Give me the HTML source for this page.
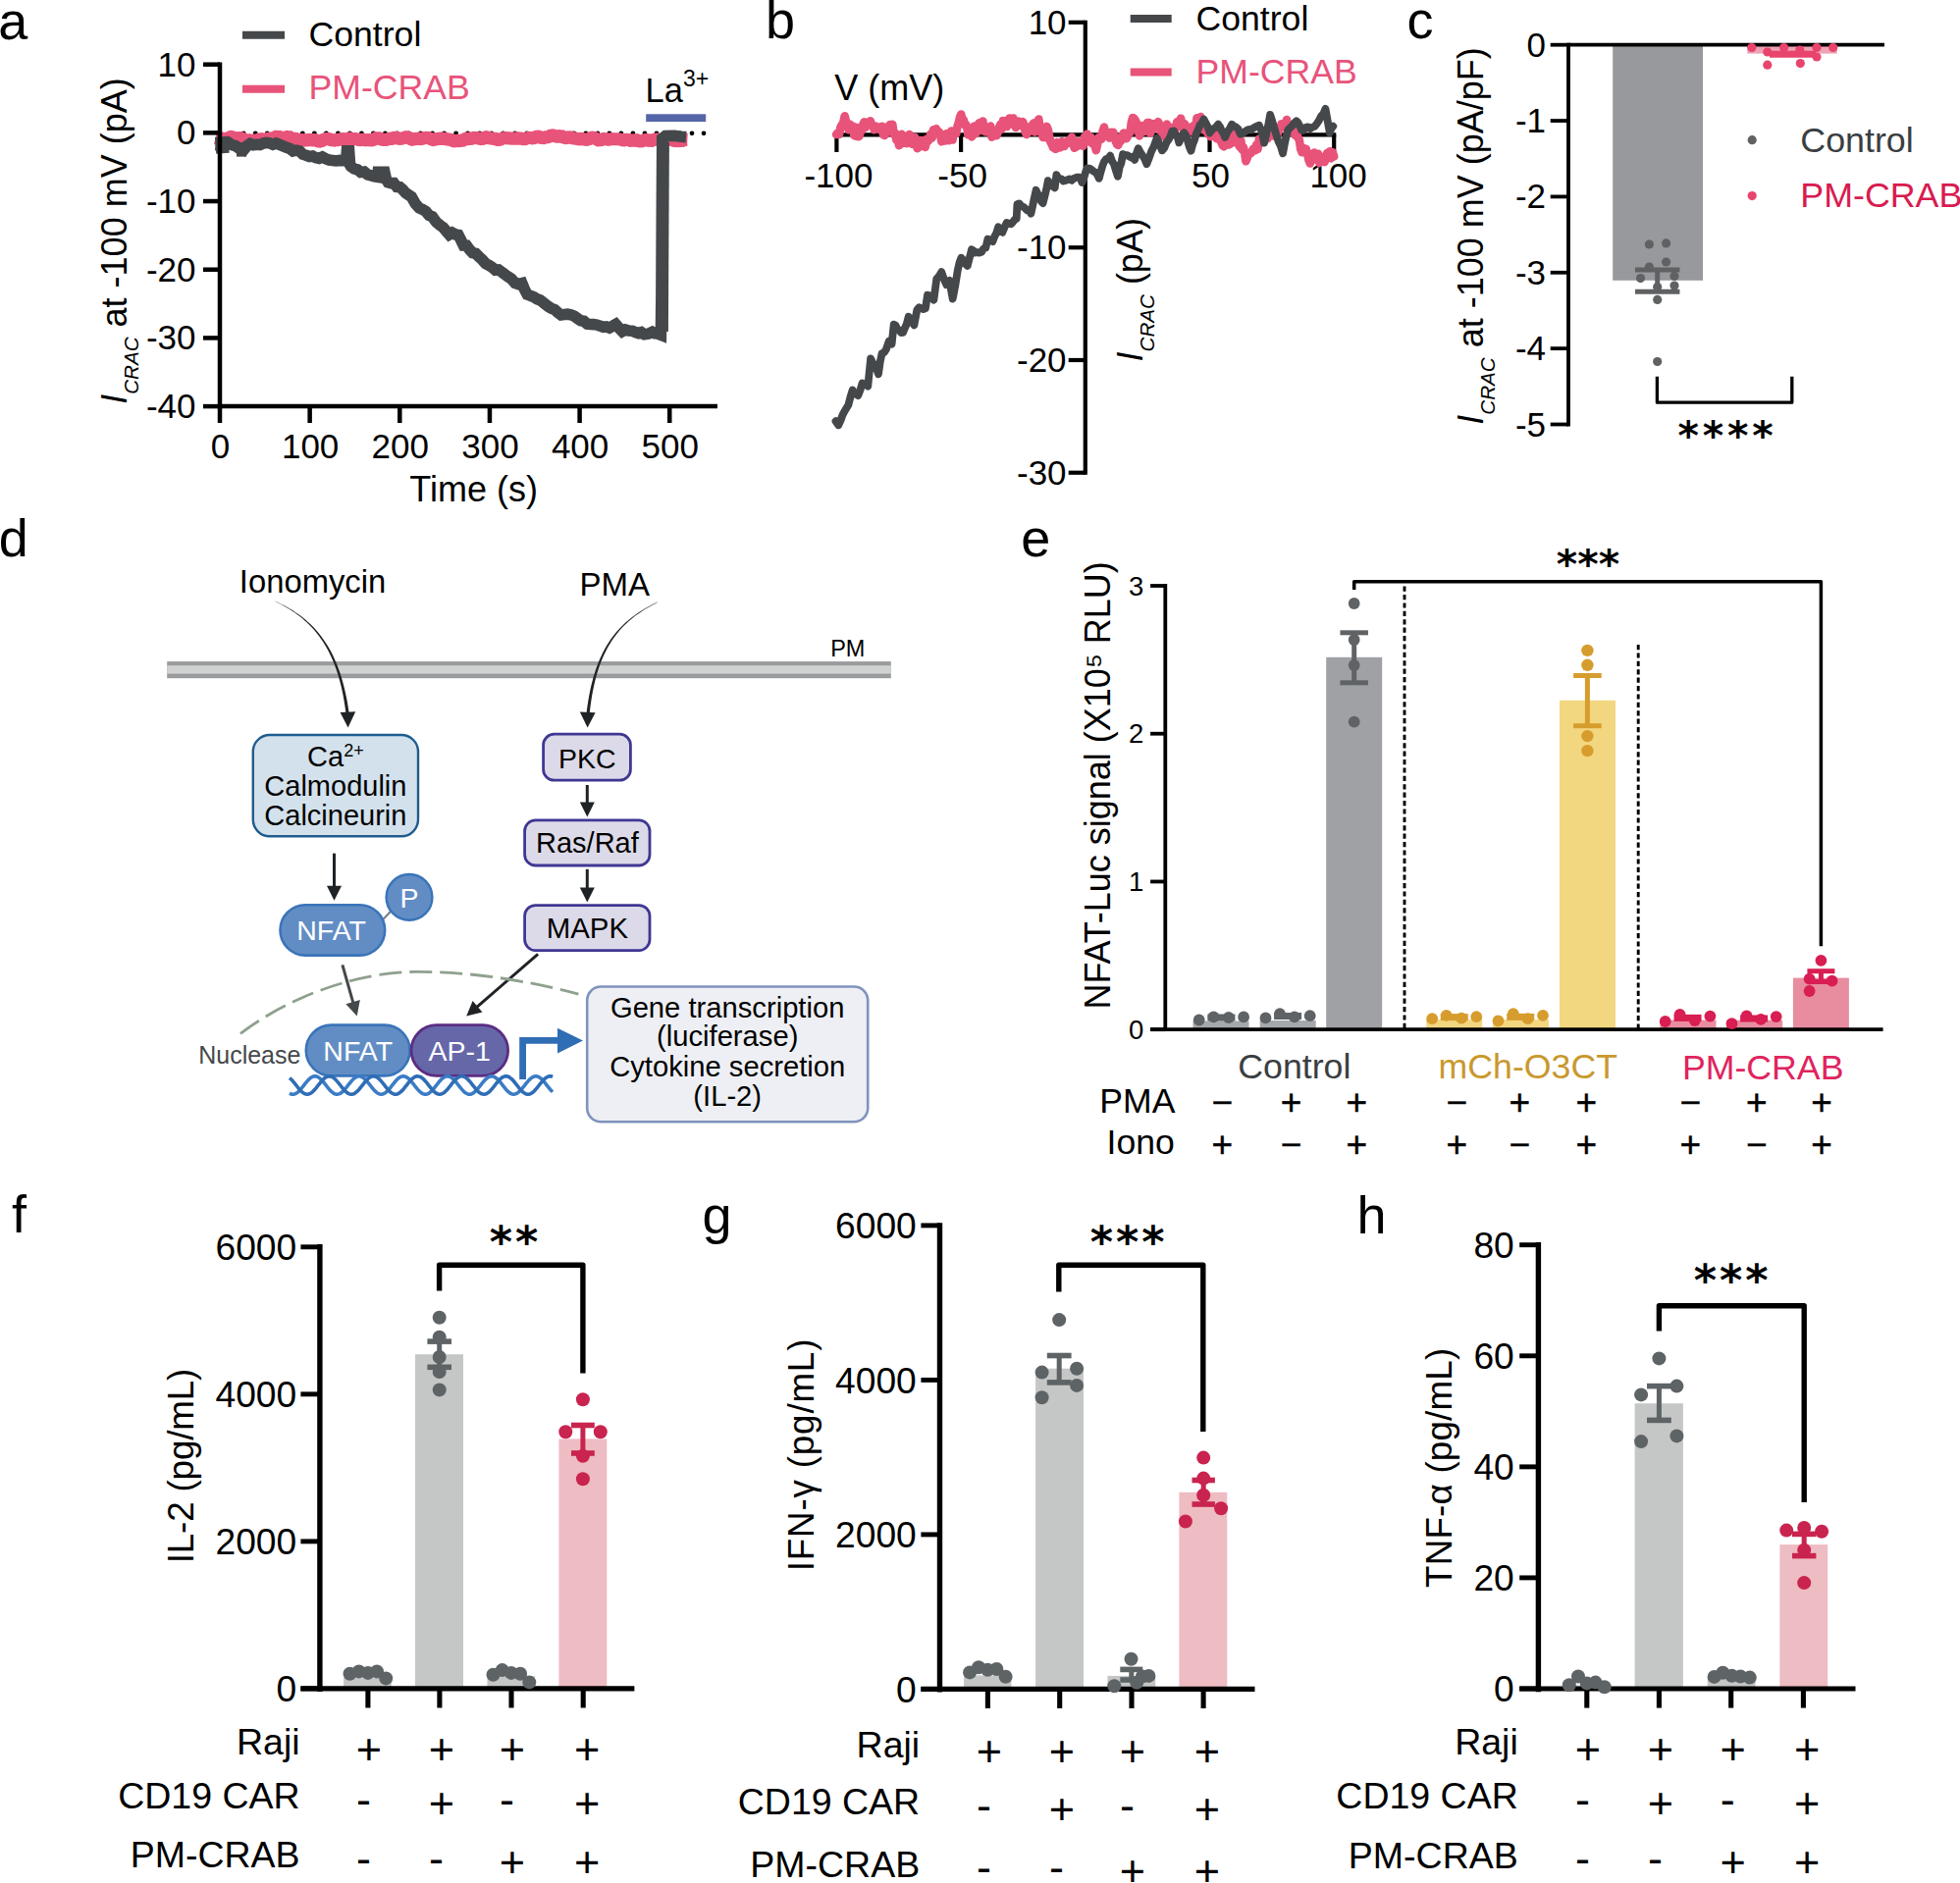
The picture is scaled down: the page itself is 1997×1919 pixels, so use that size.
<!DOCTYPE html>
<html lang="en">
<head>
<meta charset="utf-8">
<title>Figure</title>
<style>
html,body{margin:0;padding:0;background:#fff;}
body{width:1997px;height:1919px;overflow:hidden;}
svg{display:block;}
text{font-family:"Liberation Sans", Arial, Helvetica, sans-serif;}
</style>
</head>
<body>
<svg width="1997" height="1919" viewBox="0 0 1997 1919" font-family='"Liberation Sans", Arial, Helvetica, sans-serif'>
<rect width="1997" height="1919" fill="#fff"/>
<g id="panel-a">
<text x="-1.7" y="39.5" font-size="54">a</text>
<line x1="224.2" y1="135.8" x2="718" y2="135.8" stroke="#000" stroke-width="4.8" stroke-dasharray="0 12.02" stroke-linecap="round"/>
<path d="M219.6 140.66 L222.51 141.4 L225.43 140.94 L228.34 141.53 L231.26 141.67 L234.17 139.84 L237.09 139.25 L240 141.72 L243.14 140.66 L246.29 140.6 L249.43 143.25 L252.57 142.33 L255.71 143.54 L258.86 142.86 L262 143.47 L265 141.39 L268 142.06 L271 142.47 L274 140.99 L277 140.92 L280 140.22 L282.86 138.46 L285.71 140.5 L288.57 140.55 L291.43 139.8 L294.29 138.96 L297.14 141.63 L300 141.08 L303 141.92 L306 142.76 L309 142.56 L312 143.34 L315 141.97 L318 143.16 L321 142.41 L324 144 L327 144.29 L330 142.01 L333 141.49 L336 141.52 L339 143.8 L342 142.45 L345 142.66 L348 141.55 L351 141.86 L354 141.42 L357 141.1 L360 141.66 L363.08 141.72 L366.15 142.7 L369.23 142.12 L372.31 142.74 L375.38 142.56 L378.46 142.9 L381.54 141.88 L384.62 139.99 L387.69 141.78 L390.77 142.41 L393.85 142.29 L396.92 141.12 L400 141.29 L403.08 139.81 L406.15 141.56 L409.23 141.15 L412.31 140.2 L415.38 139.37 L418.46 141.79 L421.54 142.77 L424.62 140.15 L427.69 141.96 L430.77 141.14 L433.85 140.2 L436.92 140.53 L440 142.18 L443 142.93 L446 140.51 L449 141.93 L452 140.47 L455 142.41 L458 141.64 L461 143.33 L464 144.06 L467 142.77 L470 144.17 L473 142.07 L476 140.79 L479 142.09 L482 140.41 L485 140.48 L488 141.05 L491 141.69 L494 140.25 L497 139.48 L500 141.84 L503.08 140.53 L506.15 142.31 L509.23 142.43 L512.31 140.76 L515.38 140.66 L518.46 140.8 L521.54 141.2 L524.62 141.09 L527.69 140.92 L530.77 141.05 L533.85 142.07 L536.92 140.86 L540 140.34 L543.12 140.99 L546.25 139.42 L549.38 139.16 L552.5 141.12 L555.62 139.9 L558.75 139.6 L561.88 137.67 L565 138.42 L568.12 139.45 L571.25 138.12 L574.38 140.01 L577.5 140.69 L580.62 139.24 L583.75 141.02 L586.88 141.11 L590 142.06 L593 141.19 L596 142.19 L599 142.53 L602 140.35 L605 140.07 L608 142.03 L611 143.38 L614 141.41 L617 141.71 L620 142.25 L623 141.62 L626 141.76 L629 141.74 L632 142.04 L635 142.94 L638 142.3 L641 142.54 L644 143.97 L647 141.99 L650 143.45 L653.12 144.18 L656.25 142.92 L659.38 142.33 L662.5 144.03 L665.62 142.51 L668.75 141.99 L671.88 142.63 L675 143.55 L678.17 141.84 L681.35 142.2 L684.52 142.31 L687.7 143.93 L690.88 142.99 L694.05 144.14 L697.23 142.17 L700.4 142.31" fill="none" stroke="#e8537a" stroke-width="13.2" stroke-linejoin="bevel" stroke-linecap="butt"/>
<path d="M219.6 147.61 L222.75 147.98 L225.9 146.58 L229.05 145.56 L232.2 144.9 L236.1 147.72 L240 148.66 L244.1 151.49 L248.2 152.99 L251.5 148.84 L254.8 146.53 L258.12 147.79 L261.45 147.31 L264.78 147.55 L268.1 146.17 L271.4 145.47 L274.7 145.83 L278 147.23 L281.3 145.95 L284.83 147.36 L288.37 148.9 L291.9 150.26 L295.22 151.41 L298.55 153.96 L301.88 153.21 L305.2 153.78 L308.52 157.23 L311.85 158.28 L315.18 159.55 L318.5 159.07 L321.8 160.81 L325.1 161.38 L328.4 159.98 L331.7 161.7 L335.23 162.97 L338.77 163.44 L342.3 163.91 L345.73 163.44 L349.17 163.71 L352.6 163.62 L353.4 153.8 L355.6 153.8 L356.6 168 L357.5 169.57 L360.83 172.03 L364.17 172.92 L367.5 175.42 L371.07 175.08 L374.63 177.98 L378.2 178.9 L381.4 179.87 L384.6 180.35 L385.2 175.2 L391.8 175.2 L393.4 182.5 L395.4 185.72 L398.38 186.63 L401.35 186.6 L404.32 190.43 L407.3 190.66 L410.3 193.22 L413.3 196.68 L416.3 198.69 L419.3 200.65 L423.25 207.52 L427.2 211.98 L430.52 213.39 L433.85 215.35 L437.18 219.5 L440.5 220.83 L444.5 226.32 L448.5 229.73 L451.57 231.8 L454.63 235.44 L457.7 239.07 L460.8 237.19 L463.9 238.9 L467 239.47 L469.65 244.62 L472.3 250.1 L475.37 250.14 L478.43 254.32 L481.5 257.73 L484.82 258.34 L488.15 261.77 L491.48 264.81 L494.8 268.6 L498.12 270.34 L501.45 272.44 L504.78 275.36 L508.1 275.06 L511.4 277.32 L514.7 279.86 L518 282.2 L521.3 284.35 L524.83 288.44 L528.37 289.68 L531.9 288.66 L534.55 295.14 L537.2 300.13 L540.53 301.33 L543.85 302.68 L547.17 304.85 L550.5 306 L554.5 309.05 L558.5 312.22 L561.8 314.35 L565.1 315.54 L568.4 318.57 L571.7 320.97 L575.03 320.58 L578.35 320.13 L581.67 320.91 L585 322.1 L588.33 324.54 L591.65 326.84 L594.97 327.35 L598.3 330.19 L601.6 330.49 L604.9 330.59 L608.2 331.07 L611.5 332.15 L614.6 333.28 L617.7 332.95 L620.8 334.18 L624.1 332.34 L627.4 330.41 L630.75 334.23 L634.1 337.8 L637.4 336.02 L640.7 337 L644 337.16 L647.3 338.64 L650.4 339.62 L653.5 338.59 L656.6 340.69 L660.6 340.21 L664.6 338.27 L667.25 339.88 L669.9 340.03 L673.4 341.34 L673.9 300 L674.4 200 L674.8 141 L678 138.4 L687.1 138.2 L694 139.2 L699.1 139.6" fill="none" stroke="#45484b" stroke-width="11.6" stroke-linejoin="miter" stroke-miterlimit="2.5" stroke-linecap="butt"/>
<path d="M219.6 148.2 L233 147.2" fill="none" stroke="#45484b" stroke-width="17"/>
<path d="M241 152.4 L251 152.4" fill="none" stroke="#45484b" stroke-width="14.5"/>
<path d="M675.4 338 L676.4 145" fill="none" stroke="#45484b" stroke-width="11"/>
<line x1="224" y1="63.45" x2="224" y2="416.35" stroke="#000" stroke-width="4.5"/>
<line x1="224" y1="414.1" x2="731" y2="414.1" stroke="#000" stroke-width="4.5"/>
<line x1="207" y1="65.7" x2="224" y2="65.7" stroke="#000" stroke-width="4.5"/>
<text x="199.5" y="77.7" font-size="35" text-anchor="end">10</text>
<line x1="207" y1="135.38" x2="224" y2="135.38" stroke="#000" stroke-width="4.5"/>
<text x="199.5" y="147.38" font-size="35" text-anchor="end">0</text>
<line x1="207" y1="205.06" x2="224" y2="205.06" stroke="#000" stroke-width="4.5"/>
<text x="199.5" y="217.06" font-size="35" text-anchor="end">-10</text>
<line x1="207" y1="274.74" x2="224" y2="274.74" stroke="#000" stroke-width="4.5"/>
<text x="199.5" y="286.74" font-size="35" text-anchor="end">-20</text>
<line x1="207" y1="344.42" x2="224" y2="344.42" stroke="#000" stroke-width="4.5"/>
<text x="199.5" y="356.42" font-size="35" text-anchor="end">-30</text>
<line x1="207" y1="414.1" x2="224" y2="414.1" stroke="#000" stroke-width="4.5"/>
<text x="199.5" y="426.1" font-size="35" text-anchor="end">-40</text>
<line x1="224" y1="414.1" x2="224" y2="431" stroke="#000" stroke-width="4.5"/>
<text x="224.5" y="466.8" font-size="35" text-anchor="middle">0</text>
<line x1="315.65" y1="414.1" x2="315.65" y2="431" stroke="#000" stroke-width="4.5"/>
<text x="316.15" y="466.8" font-size="35" text-anchor="middle">100</text>
<line x1="407.3" y1="414.1" x2="407.3" y2="431" stroke="#000" stroke-width="4.5"/>
<text x="407.8" y="466.8" font-size="35" text-anchor="middle">200</text>
<line x1="498.95" y1="414.1" x2="498.95" y2="431" stroke="#000" stroke-width="4.5"/>
<text x="499.45" y="466.8" font-size="35" text-anchor="middle">300</text>
<line x1="590.6" y1="414.1" x2="590.6" y2="431" stroke="#000" stroke-width="4.5"/>
<text x="591.1" y="466.8" font-size="35" text-anchor="middle">400</text>
<line x1="682.25" y1="414.1" x2="682.25" y2="431" stroke="#000" stroke-width="4.5"/>
<text x="682.75" y="466.8" font-size="35" text-anchor="middle">500</text>
<text x="482.6" y="511" font-size="36" text-anchor="middle">Time (s)</text>
<text transform="translate(129.2,411.8) rotate(-90)" font-size="36"><tspan font-style="italic">I</tspan><tspan font-style="italic" font-size="20.6" dy="12">CRAC</tspan><tspan dy="-12"> at -100 mV (pA)</tspan></text>
<line x1="247" y1="35.7" x2="290" y2="35.7" stroke="#45484b" stroke-width="8"/>
<text x="314.6" y="46.5" font-size="35.6">Control</text>
<line x1="247" y1="90.8" x2="290" y2="90.8" stroke="#e8537a" stroke-width="8"/>
<text x="314.6" y="101" font-size="35.6" fill="#e8537a">PM-CRAB</text>
<text x="657.6" y="104" font-size="34.5">La<tspan font-size="23" dy="-16.2">3+</tspan></text>
<rect x="658.2" y="116.3" width="61" height="7.8" fill="#5566a8"/>
</g>
<g id="panel-b">
<text x="780" y="38.6" font-size="54">b</text>
<line x1="1105.8" y1="20.7" x2="1105.8" y2="483.8" stroke="#000" stroke-width="4.2"/>
<line x1="850.3" y1="137.4" x2="1361.3" y2="137.4" stroke="#000" stroke-width="4.2"/>
<line x1="1088.7" y1="22.8" x2="1105.8" y2="22.8" stroke="#000" stroke-width="4.2"/>
<text x="1086.6" y="34.8" font-size="35" text-anchor="end">10</text>
<line x1="1088.7" y1="252.26" x2="1105.8" y2="252.26" stroke="#000" stroke-width="4.2"/>
<text x="1086.6" y="264.26" font-size="35" text-anchor="end">-10</text>
<line x1="1088.7" y1="366.99" x2="1105.8" y2="366.99" stroke="#000" stroke-width="4.2"/>
<text x="1086.6" y="378.99" font-size="35" text-anchor="end">-20</text>
<line x1="1088.7" y1="481.72" x2="1105.8" y2="481.72" stroke="#000" stroke-width="4.2"/>
<text x="1086.6" y="493.72" font-size="35" text-anchor="end">-30</text>
<line x1="852.4" y1="137.4" x2="852.4" y2="155" stroke="#000" stroke-width="4.2"/>
<text x="854.5" y="190.6" font-size="35" text-anchor="middle">-100</text>
<line x1="979.1" y1="137.4" x2="979.1" y2="155" stroke="#000" stroke-width="4.2"/>
<text x="980.6" y="190.6" font-size="35" text-anchor="middle">-50</text>
<line x1="1232.5" y1="137.4" x2="1232.5" y2="155" stroke="#000" stroke-width="4.2"/>
<text x="1233.5" y="190.6" font-size="35" text-anchor="middle">50</text>
<line x1="1359.2" y1="137.4" x2="1359.2" y2="155" stroke="#000" stroke-width="4.2"/>
<text x="1363.6" y="190.6" font-size="35" text-anchor="middle">100</text>
<text x="850.2" y="101.8" font-size="36">V (mV)</text>
<text transform="translate(1164.3,368.5) rotate(-90)" font-size="36"><tspan font-style="italic">I</tspan><tspan font-style="italic" font-size="20.6" dy="12">CRAC</tspan><tspan dy="-12"> (pA)</tspan></text>
<path d="M852.1 137.04 L853.55 135.44 L855 137.03 L856.42 129.55 L857.85 127 L859.28 125.38 L860.7 118.21 L862.03 123.88 L863.35 127.9 L864.67 132.28 L866 126.61 L867.42 129.51 L868.85 128.44 L870.28 137.87 L871.7 138.57 L872.96 129.9 L874.22 139.13 L875.48 138.95 L876.74 134.4 L878 132.59 L879.26 126.89 L880.52 124.42 L881.78 129.95 L883.04 124.78 L884.3 125.56 L885.58 125.98 L886.87 123.29 L888.15 127.84 L889.43 127.77 L890.72 132.21 L892 128.62 L893.33 130.37 L894.67 129.5 L896 131.92 L897.33 130.36 L898.67 128.71 L900 137.56 L901.33 138.02 L902.67 135.95 L904 133.89 L905.33 128.79 L906.67 126.98 L908 127.2 L909.33 126.86 L910.67 136.92 L912 135.59 L913.33 142.63 L914.67 139.9 L916 148.27 L917.33 147.17 L918.67 136.78 L920 137.82 L921.33 145.74 L922.67 141.01 L924 146.13 L925.33 140.61 L926.67 136.94 L928 143.76 L929.33 146.86 L930.67 141.89 L932 139.93 L933.33 143.06 L934.66 151.24 L935.99 150.12 L937.31 143 L938.64 144.26 L939.97 143.17 L941.3 143.05 L942.72 149.94 L944.15 141.87 L945.58 144.02 L947 141.42 L948.35 136.42 L949.7 140.55 L951.05 132.22 L952.4 135.67 L953.8 131.19 L955.2 135.34 L956.6 134.35 L958 135.96 L959.24 144.23 L960.49 143.13 L961.73 137.2 L962.97 143.43 L964.21 136.19 L965.46 137.64 L966.7 143.19 L967.96 140.62 L969.22 133.45 L970.48 142.56 L971.74 133.81 L973 132.89 L974.26 136.04 L975.52 128.61 L976.78 124.93 L978.04 119.39 L979.3 116.48 L980.47 123.79 L981.65 121.94 L982.83 127.34 L984 126.59 L985.2 129.31 L986.4 137.3 L987.6 134.34 L988.8 136.91 L990.04 139.38 L991.28 130.73 L992.52 128.63 L993.76 136.34 L995 135.15 L996.28 127.58 L997.56 125.32 L998.84 130.71 L1000.12 132.79 L1001.4 123.49 L1002.72 132.97 L1004.04 134.47 L1005.36 132.71 L1006.68 131.75 L1008 129.29 L1009.22 128.53 L1010.44 139.63 L1011.66 132.62 L1012.88 137.74 L1014.1 133.37 L1015.42 138.19 L1016.73 134.81 L1018.05 129.73 L1019.37 126.64 L1020.68 131.51 L1022 123.17 L1023.32 123.31 L1024.63 126.26 L1025.95 129.06 L1027.27 125.62 L1028.58 120.44 L1029.9 126.44 L1031.18 121.1 L1032.45 120.44 L1033.72 125.4 L1035 130.04 L1036.47 124.26 L1037.93 123.69 L1039.4 124.53 L1040.72 128.05 L1042.04 124.05 L1043.36 127.16 L1044.68 134.47 L1046 137.06 L1047.2 133.82 L1048.4 134.24 L1049.6 133.38 L1050.8 128.44 L1052 127.05 L1053.26 125.39 L1054.52 134.52 L1055.78 131.83 L1057.04 133.47 L1058.3 121.47 L1059.73 131.16 L1061.17 133.53 L1062.6 139.89 L1063.9 134.05 L1065.2 140.26 L1066.5 128.9 L1067.8 132.1 L1069.1 138.71 L1070.4 144.81 L1071.7 147.04 L1073 150.41 L1074.3 150.96 L1075.6 152.05 L1076.9 145.18 L1078.2 148 L1079.5 150.41 L1080.8 149.91 L1082.1 144.15 L1083.4 147.55 L1084.63 148.83 L1085.86 145.6 L1087.09 145.92 L1088.31 143.15 L1089.54 145.26 L1090.77 145.82 L1092 139.72 L1093.3 145.83 L1094.6 150.74 L1095.9 150.06 L1097.2 148.37 L1098.5 144.39 L1099.8 148.2 L1101.1 146.94 L1102.4 145.33 L1103.72 148.76 L1105.04 139.34 L1106.36 145.26 L1107.68 136.49 L1109 141.36 L1110.3 141.79 L1111.6 140.01 L1112.9 146.43 L1114.2 145.84 L1115.5 148.27 L1116.8 153.21 L1118.1 147.05 L1119.48 140.33 L1120.86 140.24 L1122.24 141.83 L1123.62 133.62 L1125 129.6 L1126.33 138.66 L1127.67 137.17 L1129 134.95 L1130.33 140.47 L1131.67 134.9 L1133 138.78 L1134.27 134.85 L1135.53 138.26 L1136.8 144.07 L1138.07 146.99 L1139.33 147.97 L1140.6 143.34 L1142 143.69 L1143.4 139.34 L1144.8 135.54 L1146.2 138.11 L1147.6 141.1 L1148.9 139.07 L1150.2 134.92 L1151.5 134.96 L1152.8 124.74 L1154.1 120.12 L1155.4 120.61 L1156.8 122.72 L1158.2 125.68 L1159.6 131.78 L1161 138.33 L1162.3 133.66 L1163.6 128.05 L1164.9 130.55 L1166.32 133.86 L1167.74 128.93 L1169.16 124.95 L1170.58 124.98 L1172 135.76 L1173.36 125.97 L1174.72 131.86 L1176.08 129.9 L1177.44 125.71 L1178.8 130 L1180.1 124.09 L1181.4 127.21 L1182.7 133.59 L1184 131.54 L1185.24 139.26 L1186.49 132 L1187.73 129.04 L1188.97 126.54 L1190.21 131.99 L1191.46 129.3 L1192.7 130.07 L1194 130.34 L1195.3 131.94 L1196.6 133.67 L1197.9 130.43 L1199.2 124.23 L1200.5 126.63 L1201.8 123.2 L1203.1 120.69 L1204.33 126.86 L1205.56 131.21 L1206.79 126.29 L1208.01 127.79 L1209.24 129.69 L1210.47 134.9 L1211.7 134.25 L1213 133.66 L1214.3 133.89 L1215.6 128.29 L1216.9 131.02 L1218.2 131.26 L1219.5 120.33 L1220.8 127.75 L1222.1 124.66 L1223.34 119.06 L1224.59 123.63 L1225.83 127.43 L1227.07 132.48 L1228.31 128.08 L1229.56 131.22 L1230.8 136.51 L1232.04 136.67 L1233.29 139.08 L1234.53 134.36 L1235.77 136.76 L1237.01 132.44 L1238.26 138.73 L1239.5 141.15 L1240.74 140.25 L1241.99 141.95 L1243.23 137.12 L1244.47 145.57 L1245.71 148.26 L1246.96 149.39 L1248.2 145.25 L1249.42 147.27 L1250.65 141.57 L1251.88 147.51 L1253.1 147.07 L1254.33 140.7 L1255.55 136.56 L1256.78 139.94 L1258 141.17 L1259.25 145.34 L1260.5 143.77 L1261.75 139.55 L1263 149.57 L1264.25 143.16 L1265.5 152.43 L1266.8 149.78 L1268.1 154.92 L1269.4 164.24 L1270.7 161.11 L1272 156.6 L1273.3 156.94 L1274.6 155.89 L1275.9 153.64 L1277.3 151.34 L1278.7 153.48 L1280.1 147.76 L1281.5 151.9 L1282.9 141.59 L1284.13 140.97 L1285.36 143.36 L1286.59 139.71 L1287.81 143.36 L1289.04 141.55 L1290.27 138.9 L1291.5 141.27 L1292.74 137.57 L1293.99 133.62 L1295.23 133.37 L1296.47 138.11 L1297.71 138.56 L1298.96 129.84 L1300.2 135.81 L1301.54 137.28 L1302.89 131.71 L1304.23 131.21 L1305.58 126.28 L1306.92 129.19 L1308.27 128.58 L1309.61 129.19 L1310.96 121.98 L1312.3 131.75 L1313.54 128.97 L1314.79 128.68 L1316.03 134.67 L1317.27 133.82 L1318.51 134.23 L1319.76 137.95 L1321 132.34 L1322.4 140.31 L1323.8 142.47 L1325.2 151.86 L1326.6 155.24 L1328 150.75 L1329.38 154.09 L1330.76 151.92 L1332.14 156.84 L1333.52 163.35 L1334.9 166.54 L1336.28 161.03 L1337.66 157.98 L1339.04 155.58 L1340.42 159.7 L1341.8 163.08 L1343.1 156.8 L1344.4 166.13 L1345.7 160.58 L1347 164.39 L1348.3 162.27 L1349.6 165.08 L1350.9 158.73 L1352.2 156.12 L1353.6 159.57 L1355 154.22 L1356.4 161.33 L1357.8 155.25 L1359.2 159.5" fill="none" stroke="#e8537a" stroke-width="8.6" stroke-linejoin="round" stroke-linecap="round"/>
<path d="M851.5 429.19 L854.3 433.24 L856.45 428.59 L858.6 422.69 L860.5 419.14 L862.4 415.91 L864.3 412.96 L866.45 404.65 L868.6 397.53 L870.5 400.35 L872.4 401.95 L874.3 403.04 L876.45 397.6 L878.6 390.48 L880.5 392.17 L882.4 391.19 L884.3 393.61 L887.1 365.38 L889.08 369.64 L891.05 371.69 L893.02 375.43 L895 381.31 L896.8 368.52 L898.6 360.14 L900.75 359.26 L902.9 356.05 L905.7 347.65 L908.6 350.64 L910.7 330.68 L912.56 331.74 L914.42 335.78 L916.28 336.4 L918.14 339.2 L920 338.88 L921.9 334.34 L923.8 330.09 L925.7 322.79 L927.6 325.08 L929.5 328.58 L931.4 331.38 L934.3 315.96 L936.45 313.22 L938.6 314.21 L940.75 315.13 L942.9 314.39 L945 300.61 L947.13 301.42 L949.27 303.25 L951.4 305.68 L954.3 284.06 L956.8 281.4 L959.3 277.15 L961.8 284.48 L964.3 290.28 L965.9 288.07 L967.5 285.93 L969.1 295.95 L970.7 304.59 L973.2 291.55 L975.7 275.94 L977.5 267.72 L979.3 262.71 L981.43 264.74 L983.57 268.93 L985.7 270.92 L987.85 262.7 L990 254.33 L991.9 255.51 L993.8 257.47 L995.7 257.05 L997.85 257.67 L1000 256.92 L1002.15 253.41 L1004.3 252.66 L1006.4 243.65 L1008.9 244.77 L1011.4 246.09 L1013.3 241.18 L1015.2 237.56 L1017.1 231.32 L1019.25 235.42 L1021.4 236.79 L1023.55 231.47 L1025.7 226.95 L1027.85 227.69 L1030 228.34 L1031.9 226.5 L1033.8 223.84 L1035.7 222.97 L1036.4 208.24 L1038.57 207.4 L1040.73 210.3 L1042.9 210.92 L1044.78 212.62 L1046.65 214.37 L1048.53 214.68 L1050.4 217.77 L1052.13 209.96 L1053.87 201.47 L1055.6 193.74 L1057.35 197.65 L1059.1 200.39 L1060.85 205.2 L1062.6 207.08 L1064.33 200.22 L1066.07 193.17 L1067.8 184.2 L1070.1 186.91 L1072.4 189.65 L1074.7 191.44 L1076.4 178.08 L1078.15 181.56 L1079.9 182.17 L1081.65 182.34 L1083.4 184.57 L1085.55 183.92 L1087.7 183.33 L1089.85 182.41 L1092 183.89 L1093.75 182.07 L1095.5 181.31 L1097.25 180.67 L1099 180.55 L1100.7 180.97 L1102.4 186.04 L1104.17 181.96 L1105.93 175.82 L1107.7 171.51 L1110 171.57 L1112.3 173.1 L1114.6 174.88 L1116.33 175.78 L1118.07 177.92 L1119.8 181.82 L1121.53 175.12 L1123.27 169.12 L1125 164.82 L1127.03 161.94 L1129.07 161.47 L1131.1 158.71 L1133.05 164.36 L1135 167.23 L1136.95 173.89 L1138.9 179.76 L1140.63 170.58 L1142.37 166.29 L1144.1 157.12 L1146.4 158.48 L1148.7 158.14 L1151 159.68 L1152.73 160.71 L1154.47 159.54 L1156.2 162.8 L1157.95 156.17 L1159.7 151.17 L1161.88 155.32 L1164.05 158.5 L1166.23 162.07 L1168.4 167.13 L1170.7 161.17 L1173 154.49 L1175.3 150.03 L1177.05 145.3 L1178.8 140.77 L1180.53 145.48 L1182.27 148.95 L1184 153.33 L1186.3 150.66 L1188.6 145.05 L1190.9 141.96 L1192.63 138.73 L1194.37 133.54 L1196.1 133.45 L1197.83 137.65 L1199.57 138.91 L1201.3 145.39 L1203.03 140.62 L1204.77 137.18 L1206.5 135.32 L1208.25 137.9 L1210 143.36 L1211.75 149.54 L1213.5 153.76 L1215.23 147.08 L1216.97 142.85 L1218.7 136.68 L1220.65 132.48 L1222.6 127.35 L1224.55 125.36 L1226.5 121.48 L1228.53 125.26 L1230.57 129.32 L1232.6 135.44 L1234.75 132.1 L1236.9 130.84 L1239.05 129.49 L1241.2 126.71 L1242.95 129.07 L1244.7 133.09 L1246.45 135.71 L1248.2 139.88 L1250.5 134.55 L1252.8 131.36 L1255.1 126.73 L1257.27 128.62 L1259.45 129.54 L1261.62 131.57 L1263.8 136.64 L1265.88 135.84 L1267.96 134.61 L1270.04 132.99 L1272.12 131.92 L1274.2 132.52 L1276.38 130.96 L1278.55 129.72 L1280.73 128.56 L1282.9 127.67 L1284.63 131.68 L1286.37 137.49 L1288.1 145.66 L1290.1 137.03 L1292.1 128.24 L1294.1 116.85 L1296.13 122.97 L1298.17 129.97 L1300.2 136.87 L1302.5 143.93 L1304.8 148.68 L1307.1 156.31 L1308.83 146.82 L1310.57 138.62 L1312.3 132.42 L1314.47 130.06 L1316.65 128.15 L1318.83 125.18 L1321 123.29 L1322.73 125.32 L1324.47 128.53 L1326.2 132.73 L1328.38 132.75 L1330.55 129.89 L1332.73 129.37 L1334.9 131.17 L1337.2 129.62 L1339.5 128.89 L1341.8 125.96 L1343.97 122.57 L1346.15 118.18 L1348.33 116.02 L1350.5 110.87 L1352.65 122.96 L1354.8 135.43 L1356.55 130.8 L1358.3 128.72" fill="none" stroke="#45484b" stroke-width="7.8" stroke-linejoin="round" stroke-linecap="round"/>
<line x1="1151.7" y1="19" x2="1193.7" y2="19" stroke="#45484b" stroke-width="8"/>
<text x="1218.6" y="31" font-size="35.6">Control</text>
<line x1="1151.7" y1="73.4" x2="1193.7" y2="73.4" stroke="#e8537a" stroke-width="8"/>
<text x="1218.6" y="85.4" font-size="35.6" fill="#e8537a">PM-CRAB</text>
</g>
<g id="panel-c">
<text x="1433.5" y="39.3" font-size="54">c</text>
<rect x="1643.2" y="45.7" width="91.8" height="240.1" fill="#97999d"/>
<rect x="1780.3" y="45.7" width="91.4" height="8.9" fill="#eda3b4"/>
<line x1="1598" y1="43.8" x2="1598" y2="434.4" stroke="#000" stroke-width="3.8"/>
<line x1="1598" y1="45.7" x2="1920" y2="45.7" stroke="#000" stroke-width="3.8"/>
<line x1="1579.7" y1="45.7" x2="1598" y2="45.7" stroke="#000" stroke-width="3.8"/>
<text x="1575" y="57.7" font-size="35" text-anchor="end">0</text>
<line x1="1579.7" y1="123.06" x2="1598" y2="123.06" stroke="#000" stroke-width="3.8"/>
<text x="1575" y="135.06" font-size="35" text-anchor="end">-1</text>
<line x1="1579.7" y1="200.42" x2="1598" y2="200.42" stroke="#000" stroke-width="3.8"/>
<text x="1575" y="212.42" font-size="35" text-anchor="end">-2</text>
<line x1="1579.7" y1="277.78" x2="1598" y2="277.78" stroke="#000" stroke-width="3.8"/>
<text x="1575" y="289.78" font-size="35" text-anchor="end">-3</text>
<line x1="1579.7" y1="355.14" x2="1598" y2="355.14" stroke="#000" stroke-width="3.8"/>
<text x="1575" y="367.14" font-size="35" text-anchor="end">-4</text>
<line x1="1579.7" y1="432.5" x2="1598" y2="432.5" stroke="#000" stroke-width="3.8"/>
<text x="1575" y="444.5" font-size="35" text-anchor="end">-5</text>
<text transform="translate(1510.6,432.7) rotate(-90)" font-size="36"><tspan font-style="italic">I</tspan><tspan font-style="italic" font-size="20.6" dy="12">CRAC</tspan><tspan dy="-12"> at -100 mV (pA/pF)</tspan></text>
<line x1="1688.7" y1="274.9" x2="1688.7" y2="297.2" stroke="#5f6163" stroke-width="5"/>
<line x1="1665.95" y1="274.9" x2="1711.45" y2="274.9" stroke="#5f6163" stroke-width="5"/>
<line x1="1665.95" y1="297.2" x2="1711.45" y2="297.2" stroke="#5f6163" stroke-width="5"/>
<circle cx="1680.4" cy="249" r="4.6" fill="#5f6163"/>
<circle cx="1697.6" cy="247.9" r="4.6" fill="#5f6163"/>
<circle cx="1697.6" cy="267" r="4.6" fill="#5f6163"/>
<circle cx="1680.4" cy="272" r="4.6" fill="#5f6163"/>
<circle cx="1671.5" cy="283.6" r="4.6" fill="#5f6163"/>
<circle cx="1706" cy="281.4" r="4.6" fill="#5f6163"/>
<circle cx="1706" cy="291" r="4.6" fill="#5f6163"/>
<circle cx="1688.7" cy="292.5" r="4.6" fill="#5f6163"/>
<circle cx="1688.7" cy="305.4" r="4.6" fill="#5f6163"/>
<circle cx="1688.7" cy="368.5" r="4.6" fill="#5f6163"/>
<line x1="1803" y1="55.2" x2="1850" y2="55.2" stroke="#e8446e" stroke-width="7"/>
<circle cx="1784.8" cy="48.5" r="4.6" fill="#e8446e"/>
<circle cx="1817.6" cy="48.5" r="4.6" fill="#e8446e"/>
<circle cx="1851" cy="48.5" r="4.6" fill="#e8446e"/>
<circle cx="1867.7" cy="48.5" r="4.6" fill="#e8446e"/>
<circle cx="1800.8" cy="53" r="4.6" fill="#e8446e"/>
<circle cx="1833.8" cy="51" r="4.6" fill="#e8446e"/>
<circle cx="1851" cy="58" r="4.6" fill="#e8446e"/>
<circle cx="1800.8" cy="66.2" r="4.6" fill="#e8446e"/>
<circle cx="1834.3" cy="64.6" r="4.6" fill="#e8446e"/>
<path d="M1688.4 383.7 V410.2 H1825.8 V383.7" fill="none" stroke="#000" stroke-width="3.3" stroke-linejoin="round"/>
<text x="1759.9" y="458.04" font-size="41" text-anchor="middle" font-weight="bold" style="font-family:'DejaVu Sans','Liberation Sans',sans-serif" letter-spacing="3.8">****</text>
<circle cx="1785.2" cy="142.7" r="4.6" fill="#5f6163"/>
<text x="1834.3" y="155" font-size="35.8" fill="#3a3e41">Control</text>
<circle cx="1785.2" cy="199.6" r="4.6" fill="#e8446e"/>
<text x="1834.3" y="211.2" font-size="35.8" fill="#d81b50">PM-CRAB</text>
</g>
<g id="panel-d">
<text x="-1.2" y="567" font-size="54">d</text>
<text x="243.8" y="604" font-size="32.8">Ionomycin</text>
<text x="590.6" y="606.5" font-size="33">PMA</text>
<text x="846.2" y="668.5" font-size="23.5">PM</text>
<rect x="170.2" y="674.1" width="737.6" height="17.1" fill="#999b9d"/>
<rect x="170.2" y="678.2" width="737.6" height="8.4" fill="#d0d2d1"/>
<polygon points="280.54,613.04 283.59,614.52 286.58,616.06 289.5,617.65 292.35,619.29 295.14,620.99 297.86,622.74 300.52,624.55 303.11,626.42 305.63,628.35 308.09,630.34 310.48,632.4 312.81,634.52 315.07,636.71 317.27,638.97 319.41,641.3 321.48,643.71 323.48,646.19 325.42,648.75 327.3,651.38 329.12,654.1 330.88,656.89 332.57,659.78 334.2,662.74 335.76,665.8 337.27,668.95 338.72,672.18 340.1,675.51 341.42,678.94 342.69,682.47 343.89,686.09 345.03,689.81 346.11,693.64 347.13,697.57 348.09,701.61 348.99,705.76 349.84,710.02 350.62,714.39 351.34,718.88 352.01,723.48 352.61,728.2 355.79,727.8 355.1,723.04 354.36,718.4 353.56,713.87 352.69,709.46 351.77,705.16 350.78,700.98 349.74,696.9 348.63,692.93 347.47,689.07 346.24,685.31 344.95,681.66 343.6,678.11 342.19,674.65 340.71,671.3 339.18,668.04 337.58,664.87 335.92,661.8 334.2,658.82 332.42,655.93 330.58,653.13 328.67,650.41 326.71,647.78 324.68,645.23 322.59,642.76 320.43,640.37 318.22,638.06 315.94,635.82 313.6,633.66 311.2,631.57 308.74,629.54 306.21,627.59 303.62,625.7 300.97,623.88 298.26,622.12 295.49,620.42 292.65,618.78 289.75,617.2 286.78,615.67 283.75,614.19 280.66,612.76" fill="#1f2326"/>
<polygon points="354.6,741.4 346.6,726 362.2,725.2" fill="#1f2326"/>
<polygon points="669.93,613.56 666.8,615.07 663.74,616.62 660.76,618.22 657.84,619.85 655,621.53 652.23,623.26 649.53,625.05 646.9,626.88 644.34,628.78 641.85,630.73 639.42,632.74 637.07,634.82 634.78,636.96 632.56,639.17 630.41,641.45 628.32,643.8 626.3,646.23 624.35,648.74 622.46,651.32 620.64,653.99 618.88,656.74 617.19,659.58 615.57,662.5 614,665.52 612.5,668.63 611.07,671.83 609.7,675.13 608.39,678.53 607.14,682.03 605.96,685.63 604.83,689.34 603.77,693.16 602.77,697.09 601.83,701.12 600.95,705.28 600.12,709.54 599.36,713.93 598.65,718.44 598,723.07 597.41,727.83 600.59,728.17 601.1,723.46 601.68,718.86 602.3,714.4 602.99,710.05 603.73,705.82 604.53,701.7 605.39,697.7 606.31,693.81 607.29,690.03 608.32,686.36 609.42,682.79 610.58,679.32 611.8,675.95 613.08,672.68 614.43,669.5 615.84,666.41 617.31,663.41 618.84,660.5 620.44,657.68 622.11,654.94 623.84,652.27 625.64,649.69 627.51,647.18 629.44,644.74 631.44,642.37 633.51,640.07 635.65,637.84 637.86,635.67 640.14,633.57 642.5,631.52 644.92,629.53 647.42,627.59 649.99,625.71 652.64,623.88 655.35,622.1 658.15,620.36 661.01,618.67 663.95,617.02 666.97,615.41 670.07,613.84" fill="#1f2326"/>
<polygon points="598.6,741.4 590.8,725.4 606.6,726.2" fill="#1f2326"/>
<rect x="257.8" y="749" width="168.2" height="103.3" rx="17" ry="17" fill="#d3e1ec" stroke="#1f5c8e" stroke-width="2.4"/>
<text x="341.9" y="781.3" font-size="29" text-anchor="middle">Ca<tspan font-size="18" dy="-10.5">2+</tspan></text>
<text x="341.9" y="811.4" font-size="29" text-anchor="middle">Calmodulin</text>
<text x="341.9" y="841.2" font-size="29" text-anchor="middle">Calcineurin</text>
<rect x="553.6" y="748.2" width="88.8" height="47" rx="11" ry="11" fill="#dcdae8" stroke="#3f3793" stroke-width="2.8"/>
<text x="598.2" y="782.7" font-size="28.5" text-anchor="middle">PKC</text>
<line x1="598.3" y1="800" x2="598.3" y2="818.5" stroke="#1f2326" stroke-width="3"/>
<polygon points="598.3,832.5 590.8,817.5 605.8,817.5" fill="#1f2326"/>
<rect x="534.6" y="835.9" width="127.4" height="46.1" rx="11" ry="11" fill="#dcdae8" stroke="#3f3793" stroke-width="2.8"/>
<text x="598.4" y="869.2" font-size="29" text-anchor="middle">Ras/Raf</text>
<line x1="598.3" y1="885.8" x2="598.3" y2="905.5" stroke="#1f2326" stroke-width="3"/>
<polygon points="598.3,919.5 590.8,904.5 605.8,904.5" fill="#1f2326"/>
<rect x="534.6" y="922.6" width="127.4" height="46" rx="11" ry="11" fill="#dcdae8" stroke="#3f3793" stroke-width="2.8"/>
<text x="598.4" y="956" font-size="29.4" text-anchor="middle">MAPK</text>
<line x1="548.1" y1="972.3" x2="485.77" y2="1026.42" stroke="#1f2326" stroke-width="3"/>
<polygon points="475.2,1035.6 481.61,1020.1 491.44,1031.43" fill="#1f2326"/>
<line x1="340.5" y1="869.7" x2="340.5" y2="903.7" stroke="#1f2326" stroke-width="3"/>
<polygon points="340.5,917.7 333,902.7 348,902.7" fill="#1f2326"/>
<line x1="390.5" y1="936.8" x2="398.6" y2="928.2" stroke="#7b8288" stroke-width="2.2"/>
<rect x="285.5" y="922.2" width="106.7" height="51.4" rx="25.7" ry="25.7" fill="#628dc4" stroke="#3a74b9" stroke-width="2.6"/>
<text x="337.6" y="958.3" font-size="28.5" text-anchor="middle" fill="#fff">NFAT</text>
<circle cx="417" cy="914.4" r="23.4" fill="#628dc4" stroke="#3a74b9" stroke-width="2.4"/>
<text x="417" y="924.6" font-size="28.5" text-anchor="middle" fill="#fff">P</text>
<path d="M245 1053.4 C300 1012 368 991 422 990.4 C480 989.8 540 1000 589.4 1013.1" fill="none" stroke="#8fa08f" stroke-width="2.8" stroke-dasharray="23 8"/>
<line x1="348.9" y1="983.3" x2="359.89" y2="1022.13" stroke="#45484b" stroke-width="3"/>
<polygon points="363.7,1035.6 352.4,1023.21 366.83,1019.12" fill="#45484b"/>
<text x="202.2" y="1084" font-size="25" fill="#45484b">Nuclease</text>
<path d="M532.6 1100 V1060.4 H569" fill="none" stroke="#2f6db5" stroke-width="6.8"/>
<polygon points="568,1047.8 594,1060.6 568,1073.4" fill="#2f6db5"/>
<rect x="311.8" y="1044.6" width="105.8" height="51.8" rx="25.8" ry="25.8" fill="#628dc4" stroke="#3a74b9" stroke-width="2.6"/>
<text x="364.7" y="1080.7" font-size="28.5" text-anchor="middle" fill="#fff">NFAT</text>
<rect x="419" y="1044.6" width="98.6" height="51.8" rx="25.8" ry="25.8" fill="#6567a8" stroke="#5b2d82" stroke-width="2.8"/>
<text x="468.1" y="1080.7" font-size="28.5" text-anchor="middle" fill="#fff">AP-1</text>
<path d="M295 1114.18 L295.84 1114.62 L296.68 1114.93 L297.51 1115.13 L298.35 1115.2 L299.19 1115.14 L300.03 1114.96 L300.86 1114.66 L301.7 1114.24 L302.54 1113.71 L303.38 1113.07 L304.22 1112.33 L305.05 1111.51 L305.89 1110.61 L306.73 1109.65 L307.57 1108.64 L308.4 1107.59 L309.24 1106.52 L310.08 1105.45 L310.92 1104.38 L311.76 1103.33 L312.59 1102.32 L313.43 1101.36 L314.27 1100.47 L315.11 1099.65 L315.95 1098.92 L316.78 1098.28 L317.62 1097.75 L318.46 1097.33 L319.3 1097.03 L320.13 1096.85 L320.97 1096.8 L321.81 1096.87 L322.65 1097.07 L323.49 1097.39 L324.32 1097.83 L325.16 1098.38 L326 1099.03 L326.84 1099.78 L327.67 1100.62 L328.51 1101.53 L329.35 1102.49 L330.19 1103.51 L331.03 1104.56 L331.86 1105.63 L332.7 1106.71 L333.54 1107.77 L334.38 1108.82 L335.22 1109.82 L336.05 1110.77 L336.89 1111.65 L337.73 1112.46 L338.57 1113.18 L339.4 1113.8 L340.24 1114.32 L341.08 1114.72 L341.92 1115 L342.76 1115.16 L343.59 1115.2 L344.43 1115.1 L345.27 1114.89 L346.11 1114.55 L346.94 1114.1 L347.78 1113.53 L348.62 1112.86 L349.46 1112.1 L350.3 1111.26 L351.13 1110.34 L351.97 1109.36 L352.81 1108.34 L353.65 1107.28 L354.48 1106.21 L355.32 1105.14 L356.16 1104.07 L357 1103.04 L357.84 1102.04 L358.67 1101.1 L359.51 1100.22 L360.35 1099.43 L361.19 1098.72 L362.02 1098.11 L362.86 1097.61 L363.7 1097.23 L364.54 1096.97 L365.38 1096.82 L366.21 1096.81 L367.05 1096.92 L367.89 1097.15 L368.73 1097.51 L369.57 1097.98 L370.4 1098.56 L371.24 1099.24 L372.08 1100.02 L372.92 1100.87 L373.75 1101.8 L374.59 1102.78 L375.43 1103.81 L376.27 1104.87 L377.11 1105.94 L377.94 1107.02 L378.78 1108.08 L379.62 1109.11 L380.46 1110.1 L381.29 1111.03 L382.13 1111.9 L382.97 1112.68 L383.81 1113.37 L384.65 1113.96 L385.48 1114.45 L386.32 1114.82 L387.16 1115.06 L388 1115.19 L388.84 1115.18 L389.67 1115.06 L390.51 1114.8 L391.35 1114.43 L392.19 1113.94 L393.02 1113.35 L393.86 1112.65 L394.7 1111.86 L395.54 1111 L396.38 1110.06 L397.21 1109.07 L398.05 1108.04 L398.89 1106.98 L399.73 1105.9 L400.56 1104.83 L401.4 1103.77 L402.24 1102.75 L403.08 1101.76 L403.92 1100.84 L404.75 1099.99 L405.59 1099.21 L406.43 1098.54 L407.27 1097.96 L408.1 1097.49 L408.94 1097.14 L409.78 1096.91 L410.62 1096.81 L411.46 1096.83 L412.29 1096.97 L413.13 1097.24 L413.97 1097.63 L414.81 1098.14 L415.64 1098.75 L416.48 1099.46 L417.32 1100.26 L418.16 1101.13 L419 1102.08 L419.83 1103.08 L420.67 1104.11 L421.51 1105.18 L422.35 1106.25 L423.19 1107.33 L424.02 1108.38 L424.86 1109.4 L425.7 1110.37 L426.54 1111.29 L427.37 1112.13 L428.21 1112.89 L429.05 1113.55 L429.89 1114.12 L430.73 1114.57 L431.56 1114.9 L432.4 1115.11 L433.24 1115.2 L434.08 1115.16 L434.91 1115 L435.75 1114.71 L436.59 1114.3 L437.43 1113.78 L438.27 1113.16 L439.1 1112.43 L439.94 1111.62 L440.78 1110.73 L441.62 1109.78 L442.46 1108.78 L443.29 1107.73 L444.13 1106.67 L444.97 1105.59 L445.81 1104.52 L446.64 1103.47 L447.48 1102.46 L448.32 1101.49 L449.16 1100.58 L450 1099.75 L450.83 1099.01 L451.67 1098.36 L452.51 1097.81 L453.35 1097.38 L454.18 1097.06 L455.02 1096.87 L455.86 1096.8 L456.7 1096.86 L457.54 1097.04 L458.37 1097.34 L459.21 1097.77 L460.05 1098.3 L460.89 1098.94 L461.72 1099.68 L462.56 1100.5 L463.4 1101.4 L464.24 1102.36 L465.08 1103.37 L465.91 1104.42 L466.75 1105.49 L467.59 1106.56 L468.43 1107.63 L469.26 1108.68 L470.1 1109.69 L470.94 1110.65 L471.78 1111.54 L472.62 1112.36 L473.45 1113.09 L474.29 1113.73 L475.13 1114.26 L475.97 1114.67 L476.81 1114.97 L477.64 1115.15 L478.48 1115.2 L479.32 1115.12 L480.16 1114.92 L480.99 1114.6 L481.83 1114.16 L482.67 1113.61 L483.51 1112.96 L484.35 1112.21 L485.18 1111.37 L486.02 1110.46 L486.86 1109.5 L487.7 1108.48 L488.53 1107.43 L489.37 1106.36 L490.21 1105.28 L491.05 1104.22 L491.89 1103.17 L492.72 1102.17 L493.56 1101.22 L494.4 1100.34 L495.24 1099.53 L496.08 1098.81 L496.91 1098.19 L497.75 1097.68 L498.59 1097.28 L499.43 1096.99 L500.26 1096.84 L501.1 1096.8 L501.94 1096.9 L502.78 1097.11 L503.62 1097.45 L504.45 1097.91 L505.29 1098.48 L506.13 1099.14 L506.97 1099.91 L507.8 1100.75 L508.64 1101.67 L509.48 1102.65 L510.32 1103.67 L511.16 1104.73 L511.99 1105.8 L512.83 1106.87 L513.67 1107.94 L514.51 1108.97 L515.34 1109.97 L516.18 1110.91 L517.02 1111.79 L517.86 1112.58 L518.7 1113.29 L519.53 1113.89 L520.37 1114.39 L521.21 1114.77 L522.05 1115.04 L522.88 1115.18 L523.72 1115.19 L524.56 1115.08 L525.4 1114.84 L526.24 1114.49 L527.07 1114.02 L527.91 1113.43 L528.75 1112.75 L529.59 1111.97 L530.43 1111.12 L531.26 1110.19 L532.1 1109.21 L532.94 1108.18 L533.78 1107.12 L534.61 1106.05 L535.45 1104.97 L536.29 1103.91 L537.13 1102.88 L537.97 1101.89 L538.8 1100.96 L539.64 1100.09 L540.48 1099.31 L541.32 1098.62 L542.15 1098.03 L542.99 1097.55 L543.83 1097.18 L544.67 1096.94 L545.51 1096.81 L546.34 1096.82 L547.18 1096.95 L548.02 1097.2 L548.86 1097.57 L549.7 1098.06 L550.53 1098.66 L551.37 1099.36 L552.21 1100.14 L553.05 1101.01 L553.88 1101.95 L554.72 1102.94 L555.56 1103.97 L556.4 1105.04 L557.24 1106.11 L558.07 1107.18 L558.91 1108.24 L559.75 1109.27 L560.59 1110.25 L561.42 1111.17 L562.26 1112.02 L563.1 1112.79" fill="none" stroke="#3b7cc6" stroke-width="3.6"/>
<path d="M295 1098.56 L295.84 1099.24 L296.68 1100.01 L297.51 1100.87 L298.35 1101.8 L299.19 1102.78 L300.03 1103.81 L300.86 1104.87 L301.7 1105.94 L302.54 1107.01 L303.38 1108.07 L304.22 1109.11 L305.05 1110.09 L305.89 1111.03 L306.73 1111.89 L307.57 1112.68 L308.4 1113.37 L309.24 1113.96 L310.08 1114.45 L310.92 1114.81 L311.76 1115.06 L312.59 1115.19 L313.43 1115.18 L314.27 1115.06 L315.11 1114.8 L315.95 1114.43 L316.78 1113.95 L317.62 1113.35 L318.46 1112.65 L319.3 1111.87 L320.13 1111 L320.97 1110.07 L321.81 1109.07 L322.65 1108.04 L323.49 1106.98 L324.32 1105.91 L325.16 1104.83 L326 1103.78 L326.84 1102.75 L327.67 1101.77 L328.51 1100.84 L329.35 1099.99 L330.19 1099.22 L331.03 1098.54 L331.86 1097.96 L332.7 1097.49 L333.54 1097.14 L334.38 1096.91 L335.22 1096.81 L336.05 1096.83 L336.89 1096.97 L337.73 1097.24 L338.57 1097.63 L339.4 1098.13 L340.24 1098.74 L341.08 1099.45 L341.92 1100.25 L342.76 1101.13 L343.59 1102.07 L344.43 1103.07 L345.27 1104.11 L346.11 1105.17 L346.94 1106.25 L347.78 1107.32 L348.62 1108.37 L349.46 1109.4 L350.3 1110.37 L351.13 1111.29 L351.97 1112.13 L352.81 1112.89 L353.65 1113.55 L354.48 1114.11 L355.32 1114.56 L356.16 1114.9 L357 1115.11 L357.84 1115.2 L358.67 1115.16 L359.51 1115 L360.35 1114.71 L361.19 1114.3 L362.02 1113.78 L362.86 1113.16 L363.7 1112.44 L364.54 1111.63 L365.38 1110.74 L366.21 1109.78 L367.05 1108.78 L367.89 1107.74 L368.73 1106.67 L369.57 1105.6 L370.4 1104.53 L371.24 1103.48 L372.08 1102.46 L372.92 1101.49 L373.75 1100.59 L374.59 1099.76 L375.43 1099.01 L376.27 1098.36 L377.11 1097.81 L377.94 1097.38 L378.78 1097.06 L379.62 1096.87 L380.46 1096.8 L381.29 1096.86 L382.13 1097.04 L382.97 1097.34 L383.81 1097.76 L384.65 1098.3 L385.48 1098.94 L386.32 1099.68 L387.16 1100.5 L388 1101.4 L388.84 1102.36 L389.67 1103.37 L390.51 1104.42 L391.35 1105.48 L392.19 1106.56 L393.02 1107.63 L393.86 1108.67 L394.7 1109.68 L395.54 1110.64 L396.38 1111.54 L397.21 1112.36 L398.05 1113.09 L398.89 1113.73 L399.73 1114.26 L400.56 1114.67 L401.4 1114.97 L402.24 1115.15 L403.08 1115.2 L403.92 1115.12 L404.75 1114.93 L405.59 1114.6 L406.43 1114.17 L407.27 1113.62 L408.1 1112.96 L408.94 1112.21 L409.78 1111.38 L410.62 1110.47 L411.46 1109.5 L412.29 1108.48 L413.13 1107.43 L413.97 1106.36 L414.81 1105.28 L415.64 1104.22 L416.48 1103.18 L417.32 1102.18 L418.16 1101.22 L419 1100.34 L419.83 1099.53 L420.67 1098.81 L421.51 1098.19 L422.35 1097.68 L423.19 1097.28 L424.02 1096.99 L424.86 1096.84 L425.7 1096.8 L426.54 1096.9 L427.37 1097.11 L428.21 1097.45 L429.05 1097.91 L429.89 1098.47 L430.73 1099.14 L431.56 1099.9 L432.4 1100.75 L433.24 1101.67 L434.08 1102.65 L434.91 1103.67 L435.75 1104.72 L436.59 1105.79 L437.43 1106.87 L438.27 1107.93 L439.1 1108.97 L439.94 1109.97 L440.78 1110.91 L441.62 1111.78 L442.46 1112.58 L443.29 1113.28 L444.13 1113.89 L444.97 1114.39 L445.81 1114.77 L446.64 1115.04 L447.48 1115.18 L448.32 1115.19 L449.16 1115.08 L450 1114.85 L450.83 1114.49 L451.67 1114.02 L452.51 1113.44 L453.35 1112.75 L454.18 1111.98 L455.02 1111.12 L455.86 1110.19 L456.7 1109.21 L457.54 1108.18 L458.37 1107.12 L459.21 1106.05 L460.05 1104.98 L460.89 1103.92 L461.72 1102.88 L462.56 1101.89 L463.4 1100.96 L464.24 1100.1 L465.08 1099.31 L465.91 1098.62 L466.75 1098.03 L467.59 1097.55 L468.43 1097.18 L469.26 1096.94 L470.1 1096.81 L470.94 1096.82 L471.78 1096.95 L472.62 1097.2 L473.45 1097.57 L474.29 1098.06 L475.13 1098.66 L475.97 1099.35 L476.81 1100.14 L477.64 1101.01 L478.48 1101.94 L479.32 1102.94 L480.16 1103.97 L480.99 1105.03 L481.83 1106.11 L482.67 1107.18 L483.51 1108.24 L484.35 1109.26 L485.18 1110.24 L486.02 1111.17 L486.86 1112.02 L487.7 1112.79 L488.53 1113.47 L489.37 1114.04 L490.21 1114.51 L491.05 1114.86 L491.89 1115.09 L492.72 1115.19 L493.56 1115.17 L494.4 1115.02 L495.24 1114.75 L496.08 1114.36 L496.91 1113.86 L497.75 1113.25 L498.59 1112.54 L499.43 1111.74 L500.26 1110.86 L501.1 1109.91 L501.94 1108.92 L502.78 1107.88 L503.62 1106.81 L504.45 1105.74 L505.29 1104.67 L506.13 1103.61 L506.97 1102.59 L507.8 1101.62 L508.64 1100.71 L509.48 1099.86 L510.32 1099.11 L511.16 1098.44 L511.99 1097.88 L512.83 1097.43 L513.67 1097.1 L514.51 1096.89 L515.34 1096.8 L516.18 1096.84 L517.02 1097.01 L517.86 1097.29 L518.7 1097.7 L519.53 1098.22 L520.37 1098.85 L521.21 1099.57 L522.05 1100.38 L522.88 1101.27 L523.72 1102.23 L524.56 1103.23 L525.4 1104.27 L526.24 1105.34 L527.07 1106.42 L527.91 1107.49 L528.75 1108.54 L529.59 1109.55 L530.43 1110.52 L531.26 1111.42 L532.1 1112.25 L532.94 1113 L533.78 1113.65 L534.61 1114.19 L535.45 1114.62 L536.29 1114.94 L537.13 1115.13 L537.97 1115.2 L538.8 1115.14 L539.64 1114.96 L540.48 1114.65 L541.32 1114.23 L542.15 1113.69 L542.99 1113.05 L543.83 1112.32 L544.67 1111.49 L545.51 1110.59 L546.34 1109.63 L547.18 1108.62 L548.02 1107.57 L548.86 1106.5 L549.7 1105.43 L550.53 1104.36 L551.37 1103.32 L552.21 1102.31 L553.05 1101.35 L553.88 1100.45 L554.72 1099.64 L555.56 1098.9 L556.4 1098.27 L557.24 1097.74 L558.07 1097.32 L558.91 1097.03 L559.75 1096.85 L560.59 1096.8 L561.42 1096.88 L562.26 1097.08 L563.1 1097.4" fill="none" stroke="#2f6db5" stroke-width="3.6"/>
<rect x="598.2" y="1005.5" width="286" height="137.7" rx="14" ry="14" fill="#eeeff4" stroke="#7f93bc" stroke-width="2.6"/>
<text x="741.2" y="1036.5" font-size="29.2" text-anchor="middle">Gene transcription</text>
<text x="741.2" y="1066.4" font-size="29.2" text-anchor="middle">(luciferase)</text>
<text x="741.2" y="1097" font-size="29.2" text-anchor="middle">Cytokine secretion</text>
<text x="741.2" y="1127.1" font-size="29.2" text-anchor="middle">(IL-2)</text>
</g>
<g id="panel-e">
<text x="1040.3" y="567.2" font-size="54">e</text>
<rect x="1215.5" y="1040.5" width="57" height="8.7" fill="#a6a9ac"/>
<rect x="1283.7" y="1040" width="57" height="9.2" fill="#a6a9ac"/>
<rect x="1351.2" y="669.8" width="57" height="379.4" fill="#9fa1a5"/>
<rect x="1453.3" y="1039.2" width="57" height="10" fill="#f3d680"/>
<rect x="1521" y="1039.2" width="57" height="10" fill="#f3d680"/>
<rect x="1589" y="713.8" width="57" height="335.4" fill="#f3d680"/>
<rect x="1691.5" y="1039.6" width="57" height="9.6" fill="#e88da0"/>
<rect x="1759.2" y="1039.6" width="57" height="9.6" fill="#e88da0"/>
<rect x="1826.9" y="996.6" width="57" height="52.6" fill="#e88da0"/>
<line x1="1431" y1="597.6" x2="1431" y2="1049.2" stroke="#000" stroke-width="2.9" stroke-dasharray="5.2 3.2"/>
<line x1="1669.2" y1="657" x2="1669.2" y2="1049.2" stroke="#000" stroke-width="2.9" stroke-dasharray="5.2 3.2"/>
<line x1="1187.3" y1="595.1" x2="1187.3" y2="1051.1" stroke="#000" stroke-width="3.8"/>
<line x1="1172.1" y1="1049.2" x2="1918.6" y2="1049.2" stroke="#000" stroke-width="3.8"/>
<line x1="1172.1" y1="597" x2="1187.3" y2="597" stroke="#000" stroke-width="3.8"/>
<text x="1165.2" y="606.7" font-size="27.5" text-anchor="end">3</text>
<line x1="1172.1" y1="747.73" x2="1187.3" y2="747.73" stroke="#000" stroke-width="3.8"/>
<text x="1165.2" y="757.43" font-size="27.5" text-anchor="end">2</text>
<line x1="1172.1" y1="898.46" x2="1187.3" y2="898.46" stroke="#000" stroke-width="3.8"/>
<text x="1165.2" y="908.16" font-size="27.5" text-anchor="end">1</text>
<line x1="1172.1" y1="1049.19" x2="1187.3" y2="1049.19" stroke="#000" stroke-width="3.8"/>
<text x="1165.2" y="1058.89" font-size="27.5" text-anchor="end">0</text>
<text transform="translate(1130.6,1028.6) rotate(-90)" font-size="36">NFAT-Luc signal (X10⁵ RLU)</text>
<line x1="1230.4" y1="1037" x2="1258.4" y2="1037" stroke="#5f6366" stroke-width="7"/>
<circle cx="1221.7" cy="1039.5" r="5.9" fill="#5f6366"/>
<circle cx="1236.5" cy="1036.4" r="5.9" fill="#5f6366"/>
<circle cx="1251.8" cy="1037" r="5.9" fill="#5f6366"/>
<circle cx="1267.1" cy="1036.4" r="5.9" fill="#5f6366"/>
<line x1="1298.1" y1="1035.5" x2="1326.1" y2="1035.5" stroke="#5f6366" stroke-width="7"/>
<circle cx="1289.5" cy="1037.4" r="5.9" fill="#5f6366"/>
<circle cx="1304" cy="1033.1" r="5.9" fill="#5f6366"/>
<circle cx="1318.9" cy="1036.4" r="5.9" fill="#5f6366"/>
<circle cx="1334.7" cy="1035.2" r="5.9" fill="#5f6366"/>
<line x1="1467.75" y1="1036.6" x2="1495.75" y2="1036.6" stroke="#d69d2e" stroke-width="7"/>
<circle cx="1459.2" cy="1038.2" r="5.9" fill="#d69d2e"/>
<circle cx="1473.7" cy="1034.9" r="5.9" fill="#d69d2e"/>
<circle cx="1489" cy="1037.7" r="5.9" fill="#d69d2e"/>
<circle cx="1504.3" cy="1036.2" r="5.9" fill="#d69d2e"/>
<line x1="1535.25" y1="1036.4" x2="1563.25" y2="1036.4" stroke="#d69d2e" stroke-width="7"/>
<circle cx="1526.5" cy="1040.3" r="5.9" fill="#d69d2e"/>
<circle cx="1541.8" cy="1033.1" r="5.9" fill="#d69d2e"/>
<circle cx="1556.6" cy="1038.2" r="5.9" fill="#d69d2e"/>
<circle cx="1572" cy="1034.9" r="5.9" fill="#d69d2e"/>
<line x1="1705.55" y1="1037.4" x2="1733.55" y2="1037.4" stroke="#d81e52" stroke-width="7"/>
<circle cx="1696.7" cy="1041" r="5.9" fill="#d81e52"/>
<circle cx="1711.6" cy="1033.9" r="5.9" fill="#d81e52"/>
<circle cx="1726.8" cy="1040.1" r="5.9" fill="#d81e52"/>
<circle cx="1742.4" cy="1035.6" r="5.9" fill="#d81e52"/>
<line x1="1773.1" y1="1038" x2="1801.1" y2="1038" stroke="#d81e52" stroke-width="7"/>
<circle cx="1764.5" cy="1043.2" r="5.9" fill="#d81e52"/>
<circle cx="1779.6" cy="1035.4" r="5.9" fill="#d81e52"/>
<circle cx="1794.1" cy="1038.8" r="5.9" fill="#d81e52"/>
<circle cx="1809.7" cy="1036.1" r="5.9" fill="#d81e52"/>
<line x1="1379.7" y1="644.8" x2="1379.7" y2="695.8" stroke="#5f6366" stroke-width="5"/>
<line x1="1365.45" y1="644.8" x2="1393.95" y2="644.8" stroke="#5f6366" stroke-width="5"/>
<line x1="1365.45" y1="695.8" x2="1393.95" y2="695.8" stroke="#5f6366" stroke-width="5"/>
<circle cx="1379.7" cy="615" r="5.9" fill="#5f6366"/>
<circle cx="1379.7" cy="652" r="5.9" fill="#5f6366"/>
<circle cx="1379.7" cy="678" r="5.9" fill="#5f6366"/>
<circle cx="1379.7" cy="735.6" r="5.9" fill="#5f6366"/>
<line x1="1617.4" y1="688.5" x2="1617.4" y2="739.7" stroke="#d69d2e" stroke-width="5"/>
<line x1="1603.1" y1="688.5" x2="1631.7" y2="688.5" stroke="#d69d2e" stroke-width="5"/>
<line x1="1603.1" y1="739.7" x2="1631.7" y2="739.7" stroke="#d69d2e" stroke-width="5"/>
<circle cx="1617.4" cy="662.9" r="6.2" fill="#d69d2e"/>
<circle cx="1617.4" cy="677.8" r="6.2" fill="#d69d2e"/>
<circle cx="1617.4" cy="750.1" r="6.2" fill="#d69d2e"/>
<circle cx="1617.4" cy="765.1" r="6.2" fill="#d69d2e"/>
<line x1="1855.4" y1="989.7" x2="1855.4" y2="1000.5" stroke="#d81e52" stroke-width="5"/>
<line x1="1841.4" y1="989.7" x2="1869.4" y2="989.7" stroke="#d81e52" stroke-width="5"/>
<line x1="1841.4" y1="1000.5" x2="1869.4" y2="1000.5" stroke="#d81e52" stroke-width="5"/>
<circle cx="1855.4" cy="978.8" r="5.9" fill="#d81e52"/>
<circle cx="1843.6" cy="997.7" r="5.9" fill="#d81e52"/>
<circle cx="1866.6" cy="999.7" r="5.9" fill="#d81e52"/>
<circle cx="1843.6" cy="1010" r="5.9" fill="#d81e52"/>
<path d="M1379.7 601 V592.7 H1855.4 V964.3" fill="none" stroke="#000" stroke-width="3.5" stroke-linejoin="round"/>
<text x="1618" y="588.84" font-size="41" text-anchor="middle" font-weight="bold" style="font-family:'DejaVu Sans','Liberation Sans',sans-serif">***</text>
<text x="1318.8" y="1099.4" font-size="35.7" text-anchor="middle" fill="#3a3e41">Control</text>
<text x="1556.8" y="1099.4" font-size="35.7" text-anchor="middle" fill="#c9982e">mCh-O3CT</text>
<text x="1796.2" y="1099.6" font-size="35.7" text-anchor="middle" fill="#e0245e">PM-CRAB</text>
<text x="1197.4" y="1133.8" font-size="35.6" text-anchor="end">PMA</text>
<text x="1196.8" y="1176" font-size="35.6" text-anchor="end">Iono</text>
<text x="1245.4" y="1135.89" font-size="37" text-anchor="middle" stroke="#000" stroke-width="0.45">−</text>
<text x="1245.4" y="1178.89" font-size="37" text-anchor="middle" stroke="#000" stroke-width="0.45">+</text>
<text x="1315.6" y="1135.89" font-size="37" text-anchor="middle" stroke="#000" stroke-width="0.45">+</text>
<text x="1315.6" y="1178.89" font-size="37" text-anchor="middle" stroke="#000" stroke-width="0.45">−</text>
<text x="1382.4" y="1135.89" font-size="37" text-anchor="middle" stroke="#000" stroke-width="0.45">+</text>
<text x="1382.4" y="1178.89" font-size="37" text-anchor="middle" stroke="#000" stroke-width="0.45">+</text>
<text x="1484.4" y="1135.89" font-size="37" text-anchor="middle" stroke="#000" stroke-width="0.45">−</text>
<text x="1484.4" y="1178.89" font-size="37" text-anchor="middle" stroke="#000" stroke-width="0.45">+</text>
<text x="1548.2" y="1135.89" font-size="37" text-anchor="middle" stroke="#000" stroke-width="0.45">+</text>
<text x="1548.2" y="1178.89" font-size="37" text-anchor="middle" stroke="#000" stroke-width="0.45">−</text>
<text x="1616.4" y="1135.89" font-size="37" text-anchor="middle" stroke="#000" stroke-width="0.45">+</text>
<text x="1616.4" y="1178.89" font-size="37" text-anchor="middle" stroke="#000" stroke-width="0.45">+</text>
<text x="1722.3" y="1135.89" font-size="37" text-anchor="middle" stroke="#000" stroke-width="0.45">−</text>
<text x="1722.3" y="1178.89" font-size="37" text-anchor="middle" stroke="#000" stroke-width="0.45">+</text>
<text x="1789.7" y="1135.89" font-size="37" text-anchor="middle" stroke="#000" stroke-width="0.45">+</text>
<text x="1789.7" y="1178.89" font-size="37" text-anchor="middle" stroke="#000" stroke-width="0.45">−</text>
<text x="1856.1" y="1135.89" font-size="37" text-anchor="middle" stroke="#000" stroke-width="0.45">+</text>
<text x="1856.1" y="1178.89" font-size="37" text-anchor="middle" stroke="#000" stroke-width="0.45">+</text>
</g>
<g id="panel-f">
<text x="12" y="1256.4" font-size="54">f</text>
<rect x="350.1" y="1709.3" width="48.7" height="11.6" fill="#c5c7c6"/>
<rect x="423" y="1380.2" width="49" height="340.7" fill="#c5c7c6"/>
<rect x="496.4" y="1708.4" width="48.6" height="12.5" fill="#c5c7c6"/>
<rect x="569.4" y="1466.4" width="48.9" height="254.5" fill="#eebcc3"/>
<line x1="325.9" y1="1268.05" x2="325.9" y2="1724.1" stroke="#000" stroke-width="5.4"/>
<line x1="306.4" y1="1720.9" x2="646.4" y2="1720.9" stroke="#000" stroke-width="5.1"/>
<line x1="306.4" y1="1270.8" x2="325.9" y2="1270.8" stroke="#000" stroke-width="4.9"/>
<text x="302.2" y="1284" font-size="37.2" text-anchor="end">6000</text>
<line x1="306.4" y1="1420.83" x2="325.9" y2="1420.83" stroke="#000" stroke-width="4.9"/>
<text x="302.2" y="1434.03" font-size="37.2" text-anchor="end">4000</text>
<line x1="306.4" y1="1570.87" x2="325.9" y2="1570.87" stroke="#000" stroke-width="4.9"/>
<text x="302.2" y="1584.07" font-size="37.2" text-anchor="end">2000</text>
<line x1="306.4" y1="1720.9" x2="325.9" y2="1720.9" stroke="#000" stroke-width="4.9"/>
<text x="302.2" y="1734.1" font-size="37.2" text-anchor="end">0</text>
<line x1="374.9" y1="1720.9" x2="374.9" y2="1740.5" stroke="#000" stroke-width="5.1"/>
<line x1="447.9" y1="1720.9" x2="447.9" y2="1740.5" stroke="#000" stroke-width="5.1"/>
<line x1="521" y1="1720.9" x2="521" y2="1740.5" stroke="#000" stroke-width="5.1"/>
<line x1="594.2" y1="1720.9" x2="594.2" y2="1740.5" stroke="#000" stroke-width="5.1"/>
<line x1="447.7" y1="1367.1" x2="447.7" y2="1393.3" stroke="#5e6366" stroke-width="5"/>
<line x1="435.4" y1="1367.1" x2="460" y2="1367.1" stroke="#5e6366" stroke-width="5.6"/>
<line x1="435.4" y1="1393.3" x2="460" y2="1393.3" stroke="#5e6366" stroke-width="5.6"/>
<line x1="593.9" y1="1452.5" x2="593.9" y2="1481" stroke="#c9234f" stroke-width="5"/>
<line x1="582" y1="1452.5" x2="605.8" y2="1452.5" stroke="#c9234f" stroke-width="5.6"/>
<line x1="582" y1="1481" x2="605.8" y2="1481" stroke="#c9234f" stroke-width="5.6"/>
<circle cx="356.5" cy="1705.8" r="7" fill="#5e6366"/>
<circle cx="365.7" cy="1703.4" r="7" fill="#5e6366"/>
<circle cx="374.9" cy="1704.9" r="7" fill="#5e6366"/>
<circle cx="384" cy="1703.4" r="7" fill="#5e6366"/>
<circle cx="393.2" cy="1710.4" r="7" fill="#5e6366"/>
<circle cx="447.7" cy="1342.8" r="7" fill="#5e6366"/>
<circle cx="447.7" cy="1362.8" r="7" fill="#5e6366"/>
<circle cx="447.7" cy="1383" r="7" fill="#5e6366"/>
<circle cx="447.7" cy="1398" r="7" fill="#5e6366"/>
<circle cx="447.7" cy="1416.4" r="7" fill="#5e6366"/>
<circle cx="502.5" cy="1706.7" r="7" fill="#5e6366"/>
<circle cx="511.7" cy="1702.1" r="7" fill="#5e6366"/>
<circle cx="520.9" cy="1704.9" r="7" fill="#5e6366"/>
<circle cx="530.1" cy="1705.8" r="7" fill="#5e6366"/>
<circle cx="539.3" cy="1714.4" r="7" fill="#5e6366"/>
<circle cx="593.9" cy="1426.2" r="7" fill="#c9234f"/>
<circle cx="576.3" cy="1459.2" r="7" fill="#c9234f"/>
<circle cx="611.8" cy="1459.2" r="7" fill="#c9234f"/>
<circle cx="593.9" cy="1483.8" r="7" fill="#c9234f"/>
<circle cx="593.9" cy="1507.3" r="7" fill="#c9234f"/>
<path d="M447.6 1315.5 V1289.2 H593.9 V1399.6" fill="none" stroke="#000" stroke-width="5.4" stroke-linejoin="round"/>
<text x="524.9" y="1281.24" font-size="44.5" text-anchor="middle" font-weight="bold" style="font-family:'DejaVu Sans','Liberation Sans',sans-serif" letter-spacing="3">**</text>
<text transform="translate(196.6,1593.3) rotate(-90)" font-size="36.8" textLength="198.6" lengthAdjust="spacing">IL-2 (pg/mL)</text>
<text x="305.6" y="1787.9" font-size="37.5" text-anchor="end">Raji</text>
<text x="305.6" y="1843.1" font-size="37.5" text-anchor="end">CD19 CAR</text>
<text x="305.6" y="1902.8" font-size="37.5" text-anchor="end">PM-CRAB</text>
<text x="376" y="1798.17" font-size="45" text-anchor="middle">+</text>
<text x="450" y="1798.17" font-size="45" text-anchor="middle">+</text>
<text x="522" y="1798.17" font-size="45" text-anchor="middle">+</text>
<text x="598.1" y="1798.17" font-size="45" text-anchor="middle">+</text>
<text x="370.5" y="1848.83" font-size="45" text-anchor="middle">-</text>
<text x="450" y="1852.88" font-size="45" text-anchor="middle">+</text>
<text x="516.5" y="1848.83" font-size="45" text-anchor="middle">-</text>
<text x="598.1" y="1852.88" font-size="45" text-anchor="middle">+</text>
<text x="370.5" y="1908.83" font-size="45" text-anchor="middle">-</text>
<text x="444.5" y="1908.83" font-size="45" text-anchor="middle">-</text>
<text x="522" y="1912.88" font-size="45" text-anchor="middle">+</text>
<text x="598.1" y="1912.88" font-size="45" text-anchor="middle">+</text>
</g>
<g id="panel-g">
<text x="715.6" y="1256.6" font-size="54">g</text>
<rect x="982" y="1707.4" width="48.5" height="14" fill="#c5c7c6"/>
<rect x="1055.1" y="1394.7" width="48.9" height="326.7" fill="#c5c7c6"/>
<rect x="1128.4" y="1707.9" width="48.9" height="13.5" fill="#c5c7c6"/>
<rect x="1201.4" y="1520.8" width="48.9" height="200.6" fill="#eebcc3"/>
<line x1="957.5" y1="1246.15" x2="957.5" y2="1724.6" stroke="#000" stroke-width="5.4"/>
<line x1="938.4" y1="1721.4" x2="1278.5" y2="1721.4" stroke="#000" stroke-width="5.1"/>
<line x1="938.4" y1="1248.9" x2="957.5" y2="1248.9" stroke="#000" stroke-width="4.9"/>
<text x="933.8" y="1262.1" font-size="37.2" text-anchor="end">6000</text>
<line x1="938.4" y1="1406.4" x2="957.5" y2="1406.4" stroke="#000" stroke-width="4.9"/>
<text x="933.8" y="1419.6" font-size="37.2" text-anchor="end">4000</text>
<line x1="938.4" y1="1563.9" x2="957.5" y2="1563.9" stroke="#000" stroke-width="4.9"/>
<text x="933.8" y="1577.1" font-size="37.2" text-anchor="end">2000</text>
<line x1="938.4" y1="1721.4" x2="957.5" y2="1721.4" stroke="#000" stroke-width="4.9"/>
<text x="933.8" y="1734.6" font-size="37.2" text-anchor="end">0</text>
<line x1="1006.4" y1="1721.4" x2="1006.4" y2="1741" stroke="#000" stroke-width="5.1"/>
<line x1="1079.7" y1="1721.4" x2="1079.7" y2="1741" stroke="#000" stroke-width="5.1"/>
<line x1="1153" y1="1721.4" x2="1153" y2="1741" stroke="#000" stroke-width="5.1"/>
<line x1="1226.1" y1="1721.4" x2="1226.1" y2="1741" stroke="#000" stroke-width="5.1"/>
<line x1="1079.2" y1="1381.5" x2="1079.2" y2="1408.9" stroke="#5e6366" stroke-width="5"/>
<line x1="1066.8" y1="1381.5" x2="1091.6" y2="1381.5" stroke="#5e6366" stroke-width="5.6"/>
<line x1="1066.8" y1="1408.9" x2="1091.6" y2="1408.9" stroke="#5e6366" stroke-width="5.6"/>
<line x1="1152.8" y1="1701.4" x2="1152.8" y2="1712" stroke="#5e6366" stroke-width="5"/>
<line x1="1141.3" y1="1701.4" x2="1164.3" y2="1701.4" stroke="#5e6366" stroke-width="5.6"/>
<line x1="1141.3" y1="1712" x2="1164.3" y2="1712" stroke="#5e6366" stroke-width="5.6"/>
<line x1="1226.2" y1="1508.5" x2="1226.2" y2="1533" stroke="#c9234f" stroke-width="5"/>
<line x1="1214.5" y1="1508.5" x2="1237.9" y2="1508.5" stroke="#c9234f" stroke-width="5.6"/>
<line x1="1214.5" y1="1533" x2="1237.9" y2="1533" stroke="#c9234f" stroke-width="5.6"/>
<circle cx="988.1" cy="1704.4" r="7" fill="#5e6366"/>
<circle cx="997.1" cy="1699.2" r="7" fill="#5e6366"/>
<circle cx="1006.3" cy="1701.8" r="7" fill="#5e6366"/>
<circle cx="1015.4" cy="1701" r="7" fill="#5e6366"/>
<circle cx="1024.6" cy="1708.7" r="7" fill="#5e6366"/>
<circle cx="1079.2" cy="1345.1" r="7" fill="#5e6366"/>
<circle cx="1061.6" cy="1398.6" r="7" fill="#5e6366"/>
<circle cx="1097.1" cy="1394.7" r="7" fill="#5e6366"/>
<circle cx="1097.1" cy="1411.9" r="7" fill="#5e6366"/>
<circle cx="1061.6" cy="1424.2" r="7" fill="#5e6366"/>
<circle cx="1152.5" cy="1690.7" r="7" fill="#5e6366"/>
<circle cx="1135.3" cy="1718.2" r="7" fill="#5e6366"/>
<circle cx="1158.2" cy="1714.7" r="7" fill="#5e6366"/>
<circle cx="1170.4" cy="1707.9" r="7" fill="#5e6366"/>
<circle cx="1164" cy="1708.5" r="7" fill="#5e6366"/>
<circle cx="1226.2" cy="1485.6" r="7" fill="#c9234f"/>
<circle cx="1226.2" cy="1506.6" r="7" fill="#c9234f"/>
<circle cx="1226.2" cy="1523.8" r="7" fill="#c9234f"/>
<circle cx="1244.1" cy="1537.2" r="7" fill="#c9234f"/>
<circle cx="1207.9" cy="1550.5" r="7" fill="#c9234f"/>
<path d="M1078.8 1316.5 V1289.2 H1225.8 V1458.9" fill="none" stroke="#000" stroke-width="5.4" stroke-linejoin="round"/>
<text x="1150.2" y="1281.24" font-size="44.5" text-anchor="middle" font-weight="bold" style="font-family:'DejaVu Sans','Liberation Sans',sans-serif" letter-spacing="3">***</text>
<text transform="translate(829.1,1601.2) rotate(-90)" font-size="36.8" textLength="236.6" lengthAdjust="spacing">IFN-γ (pg/mL)</text>
<text x="937.2" y="1791" font-size="37.5" text-anchor="end">Raji</text>
<text x="937.2" y="1849" font-size="37.5" text-anchor="end">CD19 CAR</text>
<text x="937.2" y="1912.7" font-size="37.5" text-anchor="end">PM-CRAB</text>
<text x="1008" y="1800.28" font-size="45" text-anchor="middle">+</text>
<text x="1082" y="1800.28" font-size="45" text-anchor="middle">+</text>
<text x="1154" y="1800.28" font-size="45" text-anchor="middle">+</text>
<text x="1230" y="1800.28" font-size="45" text-anchor="middle">+</text>
<text x="1002.5" y="1854.92" font-size="45" text-anchor="middle">-</text>
<text x="1082" y="1859.38" font-size="45" text-anchor="middle">+</text>
<text x="1148.5" y="1854.92" font-size="45" text-anchor="middle">-</text>
<text x="1230" y="1859.38" font-size="45" text-anchor="middle">+</text>
<text x="1002.5" y="1917.92" font-size="45" text-anchor="middle">-</text>
<text x="1076.5" y="1917.92" font-size="45" text-anchor="middle">-</text>
<text x="1154" y="1922.17" font-size="45" text-anchor="middle">+</text>
<text x="1230" y="1922.17" font-size="45" text-anchor="middle">+</text>
</g>
<g id="panel-h">
<text x="1382.6" y="1256.5" font-size="54">h</text>
<rect x="1592.4" y="1717.4" width="48.8" height="3.6" fill="#c5c7c6"/>
<rect x="1665.6" y="1430.2" width="49.3" height="290.8" fill="#c5c7c6"/>
<rect x="1739.7" y="1709.6" width="48.9" height="11.4" fill="#c5c7c6"/>
<rect x="1813.4" y="1574.1" width="48.8" height="146.9" fill="#eebcc3"/>
<line x1="1567.4" y1="1265.95" x2="1567.4" y2="1724.2" stroke="#000" stroke-width="5.4"/>
<line x1="1548.2" y1="1721" x2="1890.5" y2="1721" stroke="#000" stroke-width="5.1"/>
<line x1="1548.2" y1="1268.7" x2="1567.4" y2="1268.7" stroke="#000" stroke-width="4.9"/>
<text x="1542.8" y="1281.9" font-size="37.2" text-anchor="end">80</text>
<line x1="1548.2" y1="1381.78" x2="1567.4" y2="1381.78" stroke="#000" stroke-width="4.9"/>
<text x="1542.8" y="1394.98" font-size="37.2" text-anchor="end">60</text>
<line x1="1548.2" y1="1494.85" x2="1567.4" y2="1494.85" stroke="#000" stroke-width="4.9"/>
<text x="1542.8" y="1508.05" font-size="37.2" text-anchor="end">40</text>
<line x1="1548.2" y1="1607.92" x2="1567.4" y2="1607.92" stroke="#000" stroke-width="4.9"/>
<text x="1542.8" y="1621.12" font-size="37.2" text-anchor="end">20</text>
<line x1="1548.2" y1="1721" x2="1567.4" y2="1721" stroke="#000" stroke-width="4.9"/>
<text x="1542.8" y="1734.2" font-size="37.2" text-anchor="end">0</text>
<line x1="1616.8" y1="1721" x2="1616.8" y2="1740.6" stroke="#000" stroke-width="5.1"/>
<line x1="1690.4" y1="1721" x2="1690.4" y2="1740.6" stroke="#000" stroke-width="5.1"/>
<line x1="1763.7" y1="1721" x2="1763.7" y2="1740.6" stroke="#000" stroke-width="5.1"/>
<line x1="1837.4" y1="1721" x2="1837.4" y2="1740.6" stroke="#000" stroke-width="5.1"/>
<line x1="1690.4" y1="1412.6" x2="1690.4" y2="1447.4" stroke="#5e6366" stroke-width="5"/>
<line x1="1678" y1="1412.6" x2="1702.8" y2="1412.6" stroke="#5e6366" stroke-width="5.6"/>
<line x1="1678" y1="1447.4" x2="1702.8" y2="1447.4" stroke="#5e6366" stroke-width="5.6"/>
<line x1="1838.2" y1="1563.4" x2="1838.2" y2="1585.6" stroke="#c9234f" stroke-width="5"/>
<line x1="1826" y1="1563.4" x2="1850.4" y2="1563.4" stroke="#c9234f" stroke-width="5.6"/>
<line x1="1826" y1="1585.6" x2="1850.4" y2="1585.6" stroke="#c9234f" stroke-width="5.6"/>
<circle cx="1598.8" cy="1717.3" r="7" fill="#5e6366"/>
<circle cx="1608" cy="1708.5" r="7" fill="#5e6366"/>
<circle cx="1616.8" cy="1715.4" r="7" fill="#5e6366"/>
<circle cx="1625.6" cy="1714.6" r="7" fill="#5e6366"/>
<circle cx="1634.7" cy="1719.2" r="7" fill="#5e6366"/>
<circle cx="1690.4" cy="1384.4" r="7" fill="#5e6366"/>
<circle cx="1708.4" cy="1412.6" r="7" fill="#5e6366"/>
<circle cx="1672.1" cy="1421.4" r="7" fill="#5e6366"/>
<circle cx="1708.4" cy="1463.4" r="7" fill="#5e6366"/>
<circle cx="1672.1" cy="1469.1" r="7" fill="#5e6366"/>
<circle cx="1746.6" cy="1708.9" r="7" fill="#5e6366"/>
<circle cx="1755.3" cy="1704.7" r="7" fill="#5e6366"/>
<circle cx="1764.5" cy="1707.7" r="7" fill="#5e6366"/>
<circle cx="1773.3" cy="1708.5" r="7" fill="#5e6366"/>
<circle cx="1782.8" cy="1709.6" r="7" fill="#5e6366"/>
<circle cx="1838.2" cy="1556.9" r="7" fill="#c9234f"/>
<circle cx="1820.2" cy="1559.6" r="7" fill="#c9234f"/>
<circle cx="1856.1" cy="1560.8" r="7" fill="#c9234f"/>
<circle cx="1838.2" cy="1579.8" r="7" fill="#c9234f"/>
<circle cx="1838.2" cy="1613.1" r="7" fill="#c9234f"/>
<path d="M1690.4 1356.5 V1330.8 H1838.2 V1531" fill="none" stroke="#000" stroke-width="5.4" stroke-linejoin="round"/>
<text x="1765.2" y="1320.24" font-size="44.5" text-anchor="middle" font-weight="bold" style="font-family:'DejaVu Sans','Liberation Sans',sans-serif" letter-spacing="3">***</text>
<text transform="translate(1479.3,1618) rotate(-90)" font-size="36.8" textLength="244.3" lengthAdjust="spacing">TNF-α (pg/mL)</text>
<text x="1546.8" y="1787.9" font-size="37.5" text-anchor="end">Raji</text>
<text x="1546.8" y="1843.1" font-size="37.5" text-anchor="end">CD19 CAR</text>
<text x="1546.8" y="1903.7" font-size="37.5" text-anchor="end">PM-CRAB</text>
<text x="1617.9" y="1797.98" font-size="45" text-anchor="middle">+</text>
<text x="1692" y="1797.98" font-size="45" text-anchor="middle">+</text>
<text x="1765.7" y="1797.98" font-size="45" text-anchor="middle">+</text>
<text x="1841.2" y="1797.98" font-size="45" text-anchor="middle">+</text>
<text x="1612.4" y="1848.72" font-size="45" text-anchor="middle">-</text>
<text x="1692" y="1852.88" font-size="45" text-anchor="middle">+</text>
<text x="1760.2" y="1848.72" font-size="45" text-anchor="middle">-</text>
<text x="1841.2" y="1852.88" font-size="45" text-anchor="middle">+</text>
<text x="1612.4" y="1908.62" font-size="45" text-anchor="middle">-</text>
<text x="1686.5" y="1908.62" font-size="45" text-anchor="middle">-</text>
<text x="1765.7" y="1912.78" font-size="45" text-anchor="middle">+</text>
<text x="1841.2" y="1912.78" font-size="45" text-anchor="middle">+</text>
</g>
</svg>
</body>
</html>
